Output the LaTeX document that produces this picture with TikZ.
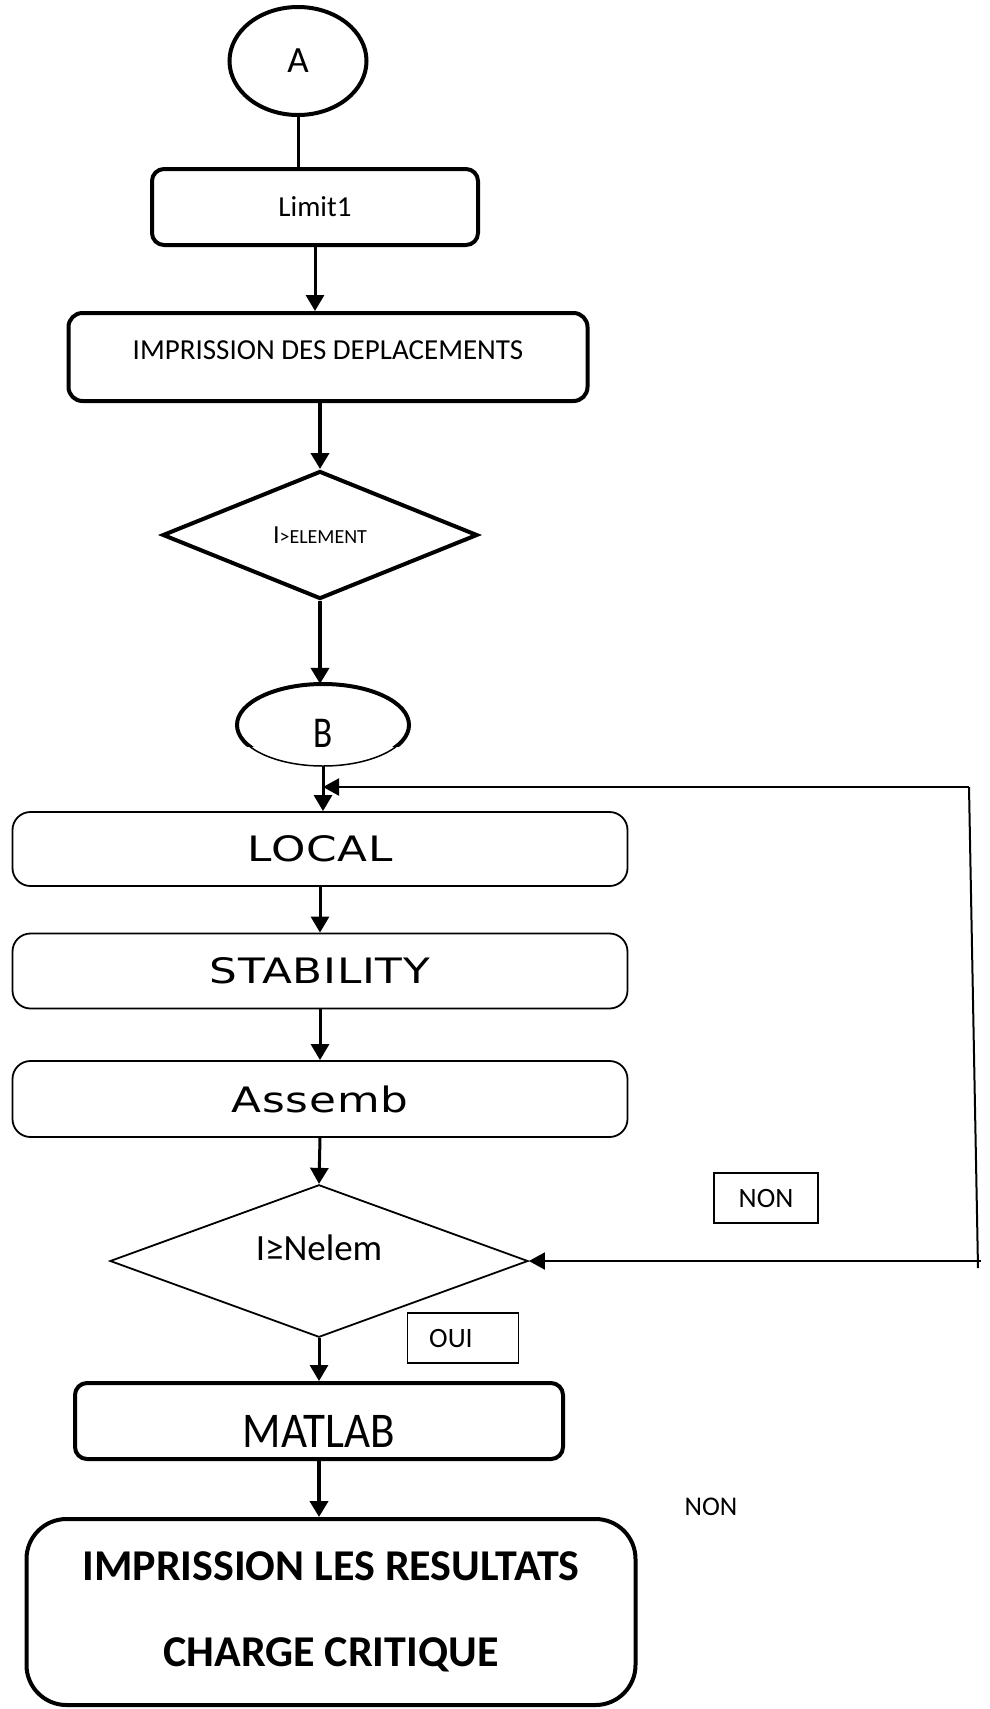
\documentclass[tikz,border=0pt]{standalone}
\usepackage{fontspec}
\setmainfont{Carlito}
\newfontfamily\widefont[FakeStretch=1.25,LetterSpace=2]{DejaVu Sans}
\usetikzlibrary{shapes.geometric,arrows.meta}
\newcommand{\shiftv}[2]{\raisebox{#1}[\height][\depth]{#2}}
\begin{document}
\begin{tikzpicture}[x=1pt,y=-1pt,
  thickbox/.style={draw,line width=4pt,rounded corners=12pt,inner sep=0pt},
  thinbox/.style={draw,line width=1.8pt,rounded corners=18pt,inner sep=0pt,minimum width=615pt,
     font=\widefont\fontsize{35}{40}\selectfont},
  labbox/.style={draw,line width=1.2pt,inner sep=0pt,font=\fontsize{28}{32}\selectfont},
  arr/.style={-{Triangle[length=16pt,width=18pt]},line width=3pt},
  arrthin/.style={-{Triangle[length=16pt,width=17pt]},line width=2pt},
  txt/.style={font=\fontsize{29}{34}\selectfont}]
\useasboundingbox (0,0) rectangle (989,1709);
\fill[white] (0,0) rectangle (989,1709);

% nodes
\node[draw,ellipse,line width=4pt,minimum width=137pt,minimum height=108pt,inner sep=0pt,
  font=\fontsize{37}{42}\selectfont] (A) at (298,61) {A};
\node[thickbox,txt,minimum width=326pt,minimum height=76pt] (L1) at (315,207) {Limit1};
\node[thickbox,txt,rounded corners=14pt,minimum width=519pt,minimum height=88pt] (IMP) at (328,357)
  {\shiftv{7pt}{IMPRISSION DES DEPLACEMENTS}};
\node[draw,diamond,line width=4pt,minimum width=315pt,minimum height=128pt,inner sep=0pt] (D1) at (320,535)
  {\fontsize{26}{30}\selectfont I\fontsize{20}{24}\selectfont>ELEMENT};
\node[ellipse,minimum width=172pt,minimum height=82pt,inner sep=0pt] (B) at (323,725)
  {\shiftv{-8pt}{\scalebox{0.8}[1]{\fontsize{44}{48}\selectfont B}}};
\node[thinbox,minimum height=74pt] (LOC) at (320,849) {LOCAL};
\node[thinbox,minimum height=75pt] (STAB) at (320,971) {STABILITY};
\node[thinbox,minimum height=76pt] (ASM) at (320,1099) {Assemb};
\node[draw,diamond,line width=1.8pt,minimum width=418pt,minimum height=146pt,inner sep=0pt] (D2) at (319,1261)
  {\shiftv{13pt}{\fontsize{37}{42}\selectfont I≥Nelem}};
\node[labbox,minimum width=104pt,minimum height=50pt] (NON1) at (766,1198) {NON};
\node[labbox,minimum width=111pt,minimum height=50pt] (OUI) at (463,1338) {OUI\kern24pt};
\node[thickbox,minimum width=488pt,minimum height=76pt] (MAT) at (319,1421)
  {\shiftv{-10pt}{\scalebox{0.9}[1]{\fontsize{50}{56}\selectfont MATLAB}}};
\node[font=\fontsize{27}{32}\selectfont] (NON2) at (711,1507) {NON};
\node[thickbox,rounded corners=40pt,minimum width=609pt,minimum height=186pt,align=center,
  font=\bfseries\fontsize{44}{86}\selectfont] (FIN) at (331,1612)
  {IMPRISSION LES RESULTATS\\CHARGE CRITIQUE};

% B outline: thin whole, thick upper part
\draw[line width=1.5pt] (B.center) ellipse [x radius=86, y radius=41];
\begin{scope}
  \clip (200,600) rectangle (450,746);
  \draw[line width=4pt] (B.center) ellipse [x radius=86, y radius=41];
\end{scope}

% connectors
\draw[line width=3pt] (A.south) -- (A.south |- L1.north);
\draw[arr] (L1.south) -- (L1.south |- IMP.north);
\draw[arr,line width=4pt] (D1.north |- IMP.south) -- (D1.north);
\draw[arr,line width=4pt] (D1.south) -- (D1.south |- B.north);
\draw[arr] (B.south) -- (B.south |- LOC.north);
\draw[arr] (LOC.south) -- (STAB.north);
\draw[arr] (STAB.south) -- (ASM.north);
\draw[arr] (ASM.south) -- (D2.north);
\draw[arr] (D2.south) -- (D2.south |- MAT.north);
\draw[arr,line width=4pt] (MAT.south) -- (MAT.south |- FIN.north);

% feedback loop
\coordinate (fb1) at (969,787);
\coordinate (fb2) at (978,1268);
\coordinate (fb3) at (981,1261);
\draw[line width=2pt] (fb1) -- (fb2);
\draw[arrthin] (fb3) -- (D2.east);
\draw[arrthin] (fb1) -- (B.south |- fb1);
\end{tikzpicture}
\end{document}
